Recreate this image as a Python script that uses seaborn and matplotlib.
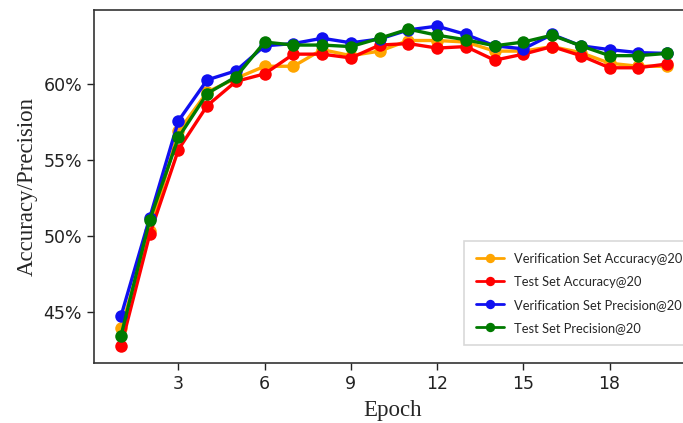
import numpy as np
import pandas as pd
import matplotlib
matplotlib.use('Agg')
import matplotlib.pyplot as plt
import matplotlib.ticker as mticker
import seaborn as sns

# values (percent)
epochs = list(range(1, 21))
val_acc = [43.9, 50.3, 56.9, 59.5, 60.4, 61.2, 61.2, 62.3, 61.9, 62.2,
           62.9, 62.9, 62.8, 62.2, 62.2, 62.5, 62.1, 61.4, 61.2, 61.2]
test_acc = [42.7, 50.1, 55.7, 58.6, 60.2, 60.7, 62.0, 62.0, 61.75, 62.6,
            62.7, 62.4, 62.5, 61.6, 62.0, 62.5, 61.9, 61.1, 61.1, 61.35]
val_prec = [44.7, 51.2, 57.6, 60.3, 60.9, 62.55, 62.7, 63.05, 62.75, 63.0,
            63.6, 63.85, 63.3, 62.55, 62.35, 63.3, 62.55, 62.3, 62.1, 62.05]
test_prec = [43.4, 51.05, 56.5, 59.4, 60.5, 62.8, 62.6, 62.6, 62.5, 63.05,
             63.65, 63.25, 62.95, 62.55, 62.8, 63.25, 62.55, 61.9, 61.9, 62.05]

series = ['Verification Set Accuracy@20', 'Test Set Accuracy@20',
          'Verification Set Precision@20', 'Test Set Precision@20']
colors = ['#FFA500', '#FF0000', '#1010F0', '#007A00']

sns.set_style('ticks')

fig = plt.figure(figsize=(6.83, 4.23), dpi=100)
# right spine sits just past the image edge, like the reference
ax = fig.add_axes([0.1376, 0.1418, 0.874, 0.834])

for name, vals, c in zip(series, [val_acc, test_acc, val_prec, test_prec], colors):
    sns.lineplot(x=epochs, y=vals, ax=ax, color=c, label=name, linewidth=2.4,
                 marker='o', markersize=9, markeredgewidth=0)

ax.set_xlim(0.06, 20.83)
ax.set_ylim(41.6, 64.9)
ax.set_xticks([3, 6, 9, 12, 15, 18])
ax.set_yticks([45, 50, 55, 60])
ax.yaxis.set_major_formatter(mticker.FuncFormatter(lambda v, p: f'{v:.0f}%'))
ax.tick_params(axis='both', labelsize=12.5, length=5, width=1, colors='#222222')
for lab in ax.get_xticklabels() + ax.get_yticklabels():
    lab.set_family('Liberation Sans Narrow')
for s in ax.spines.values():
    s.set_color('#333333')
    s.set_linewidth(1.2)

ax.set_xlabel('Epoch', family='Liberation Serif', fontsize=16.5, labelpad=5)
ax.set_ylabel('Accuracy/Precision', family='Liberation Serif', fontsize=16.5, labelpad=4)

leg = ax.legend(loc='upper left', bbox_to_anchor=(464 / 683, 1 - 241 / 423),
                bbox_transform=fig.transFigure, frameon=True, fancybox=False,
                borderpad=0.9, labelspacing=0.85, handlelength=2.2,
                handletextpad=0.8, markerscale=0.75, borderaxespad=0,
                prop={'family': 'Lato', 'size': 9.3})
leg.get_frame().set_edgecolor('#cfcfcf')
leg.get_frame().set_linewidth(1.2)
for h in leg.legend_handles:
    h.set_linewidth(2)

fig.savefig('out.png', dpi=100)
